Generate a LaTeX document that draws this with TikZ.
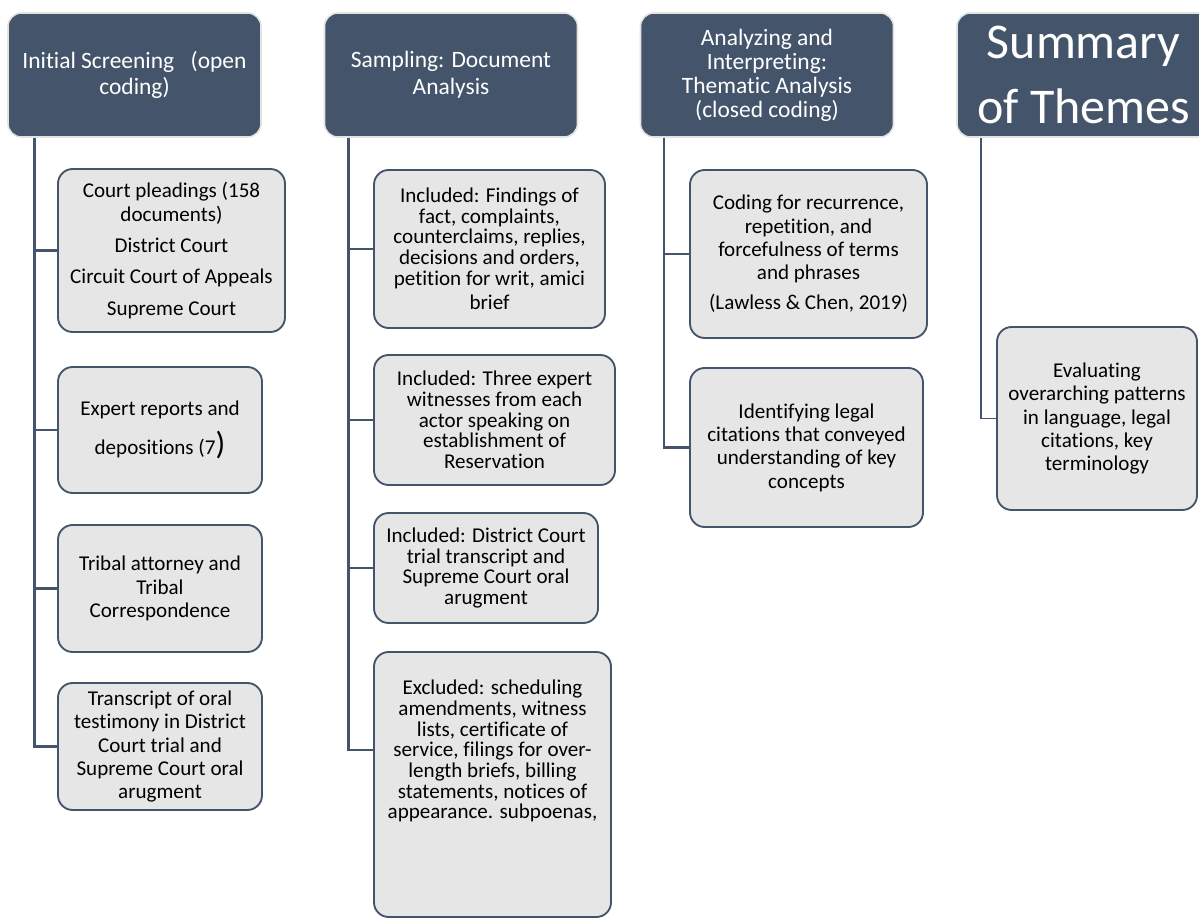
\documentclass[tikz,border=0pt]{standalone}
\usepackage{fontspec}
\setmainfont{Carlito}[Ligatures=NoCommon]
\usepackage{tikz}
\usetikzlibrary{positioning}
\definecolor{slate}{HTML}{44546A}
\definecolor{slateEdge}{HTML}{E3E3E3}
\definecolor{itemGray}{HTML}{E7E6E6}

\begin{document}
\begin{tikzpicture}[x=0.75pt, y=-0.75pt,
  head/.style={draw=slateEdge, line width=1.2pt, fill=slate, text=white, rounded corners=10pt,
    align=center, inner sep=2pt, minimum width=189.75pt, minimum height=93pt,
    font=\fontsize{17.6}{20}\selectfont},
  item/.style={draw=slate, line width=1.4pt, fill=itemGray, rounded corners=11pt,
    align=center, inner sep=3pt, font=\fontsize{15.8}{17.5}\selectfont},
  tight/.style={font=\fontsize{15.8}{15.5}\selectfont},
  trunk/.style={draw=slate, line width=2pt}]
  \useasboundingbox (0,0) rectangle (1199,919);
  \clip (0,0) rectangle (1199,919);

  % column heads
  \node[head] (screen) at (134.5,75) {Initial Screening\hspace{0.7em}(open\\coding)};
  \node[head] (sample) at (451,75) {Sampling: Document\\Analysis};
  \node[head, font=\fontsize{17.6}{18}\selectfont] (analyze) at (767,75)
    {Analyzing and\\Interpreting:\\Thematic Analysis\\(closed coding)};
  \node[head, font=\fontsize{37.5}{48.75}\selectfont] (themes) at (1083.5,75) {Summary\\of Themes};

  % initial screening
  \node[item, minimum width=170.25pt, minimum height=122.25pt] (pleadings) at (171.5,250.5)
    {Court pleadings (158\\documents)\\[6pt]District Court\\[6pt]Circuit Court of Appeals\\[6pt]Supreme Court};
  \node[item, minimum width=153pt, minimum height=94.5pt] (experts) at (160,430)
    {Expert reports and\\[8pt]depositions (7{\fontsize{24}{17.5}\selectfont)}};
  \node[item, minimum width=153pt, minimum height=95.25pt] (tribal) at (160,588.5)
    {Tribal attorney and\\Tribal\\Correspondence};
  \node[item, minimum width=153pt, minimum height=95.25pt] (testimony) at (160,746.5)
    {Transcript of oral\\testimony in District\\Court trial and\\Supreme Court oral\\arugment};

  % sampling
  \node[item, tight, minimum width=173.25pt, minimum height=118.5pt] (findings) at (489.5,249)
    {Included: Findings of\\fact, complaints,\\counterclaims, replies,\\decisions and orders,\\petition for writ, amici\\[3pt]brief};
  \node[item, tight, minimum width=180.75pt, minimum height=97.5pt] (witnesses) at (494.5,420)
    {Included: Three expert\\witnesses from each\\actor speaking on\\establishment of\\Reservation};
  \node[item, tight, minimum width=168pt, minimum height=82.5pt] (trial) at (486,568)
    {Included: District Court\\trial transcript and\\Supreme Court oral\\arugment};
  \node[item, tight, minimum width=177.75pt, minimum height=198.75pt] (excluded) at (492.5,784.5)
    {Excluded: scheduling\\amendments, witness\\lists, certificate of\\service, filings for over-\\length briefs, billing\\statements, notices of\\appearance. subpoenas,\\[37pt]\mbox{}};

  % thematic analysis
  \node[item, minimum width=177.75pt, minimum height=126pt] (coding) at (808.5,254)
    {Coding for recurrence,\\repetition, and\\forcefulness of terms\\and phrases\\[5pt](Lawless \& Chen, 2019)};
  \node[item, minimum width=174.75pt, minimum height=119.25pt] (citations) at (806.5,447.5)
    {Identifying legal\\citations that conveyed\\understanding of key\\concepts};

  % summary
  \node[item, minimum width=150pt, minimum height=137.25pt] (patterns) at (1097,418.5)
    {Evaluating\\overarching patterns\\in language, legal\\citations, key\\terminology};

  % connectors
  \foreach \b in {pleadings,experts,tribal,testimony}
    \draw[trunk] ([xshift=20.25pt]screen.south west) |- (\b.west);
  \foreach \b in {findings,witnesses,trial}
    \draw[trunk] ([xshift=18.75pt]sample.south west) |- (\b.west);
  \draw[trunk] ([xshift=18.75pt]sample.south west) |- ([yshift=25.9pt]excluded.west);
  \foreach \b in {coding,citations}
    \draw[trunk, line width=1.6pt] ([xshift=18pt]analyze.south west) |- (\b.west);
  \draw[trunk, line width=1.4pt] ([xshift=18.75pt]themes.south west) |- (patterns.west);
\end{tikzpicture}
\end{document}
